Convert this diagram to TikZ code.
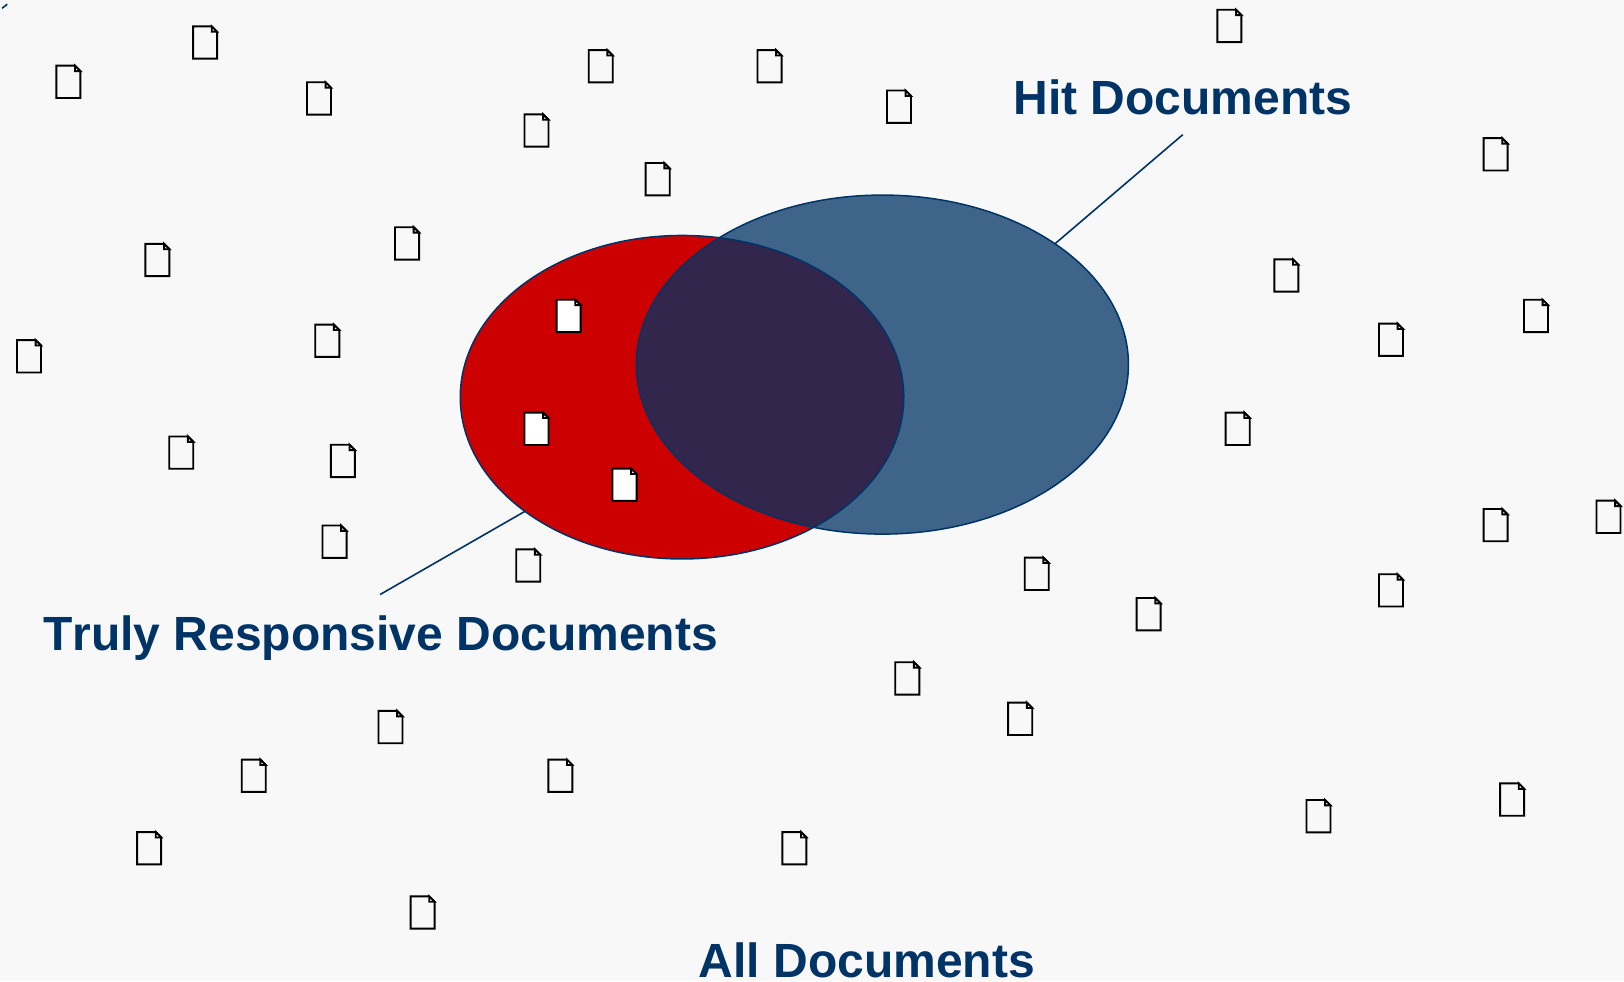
\documentclass[tikz,border=0pt]{standalone}
\usepackage{fontspec}
\setmainfont[Kerning=Off]{Liberation Sans}
\usetikzlibrary{shapes.geometric}

\definecolor{navy}{HTML}{003366}
\definecolor{pagegrey}{HTML}{F8F8F8}
\definecolor{redset}{HTML}{CC0000}

\tikzset{
    setshape/.style={draw=navy, line width=1.5pt, ellipse, inner sep=0pt, outer sep=0pt},
    biglabel/.style={anchor=base, text=navy, inner sep=0pt, font=\fontsize{48}{56}\selectfont\bfseries},
    pointer/.style={draw=navy, line width=1.6pt},
    pics/docicon/.style={code={
        \draw [line width=1.9pt, fill=#1] (-11.6,-15.6) -- (6.4,-15.6) -- (11.6,-10.4) -- (11.6,15.6) -- (-11.6,15.6) -- cycle;
        \draw [line width=1.9pt, fill=white] (6.4,-15.6) -- (6.4,-10.4) -- (11.6,-10.4) -- cycle;
    }},
}

\begin{document}
\begin{tikzpicture}[x=1.0357pt, y=-1.0357pt]
    \useasboundingbox (0,0) rectangle (1568,947.2);
    \fill [pagegrey] (0,0) rectangle (1568,947.2);
    \draw [pointer] (2,8) -- (7,4);

    % the documents outside both sets
    \foreach \px/\py in {198/41, 66/79, 308/95, 580/64, 743/64, 868/103, 518/126, 635/173,
        1187/25, 1444/149, 152/251, 393/235, 28/344, 316/329, 175/437, 331/445, 323/523,
        510/546, 1242/266, 1483/305, 1343/328, 1195/414, 1553/499, 1444/507, 1001/554,
        1109/593, 1343/570, 876/655, 985/694, 377/702, 245/749, 541/749, 144/819, 767/819,
        408/881, 1273/788, 1460/772}
        \pic at (\px,\py) {docicon=pagegrey};

    \node [setshape, fill=redset, minimum width=443.5pt, minimum height=323.5pt] (truly) at (658.5,383.5) {};
    \node [setshape, fill=navy, fill opacity=0.75, minimum width=492pt, minimum height=339pt] (hit) at (852,352) {};

    % the documents inside the red set
    \foreach \px/\py in {549/305, 518/414, 603/468}
        \pic at (\px,\py) {docicon=white};

    \node [biglabel] (hitlabel) at (1142,111) {Hit Documents};
    \node [biglabel] (trulylabel) at (367.5,628) {Truly Responsive Documents};
    \node [biglabel] (alllabel) at (837,943.5) {All Documents};

    \coordinate (hitend) at (1142,130);
    \coordinate (trulyend) at (367,574);
    \draw [pointer] (hitend) -- (hit.35.1);
    \draw [pointer] (trulyend) -- (truly.216.7);
\end{tikzpicture}
\end{document}
